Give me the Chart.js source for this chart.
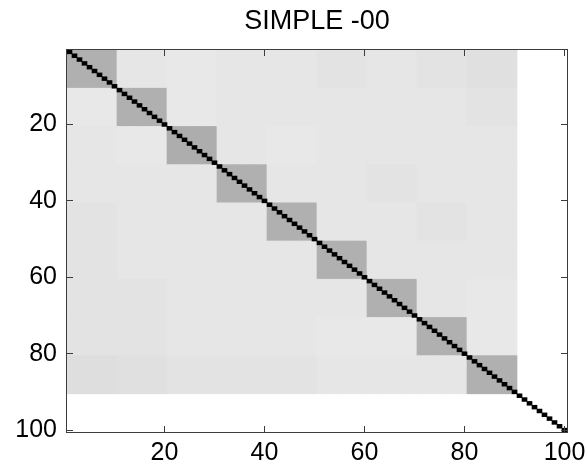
<!DOCTYPE html>
<html>
<head>
<meta charset="utf-8">
<script src="https://cdn.jsdelivr.net/npm/chart.js@4.4.0/dist/chart.umd.min.js"></script>
<style>
  html, body { margin: 0; padding: 0; background: #fff; }
</style>
</head>
<body>
<canvas id="matrixChart" width="585" height="470"></canvas>
<script>
// Titulo y marcas de los ejes
const chartTitle = 'SIMPLE -00';
const xTicks = [20, 40, 60, 80, 100];
const yTicks = [20, 40, 60, 80, 100];

// 100 elementos; los primeros 90 en grupos de 10, los ultimos 10 sin grupo
const nItems = 100;
const groupSize = 10;

// Similitud media por bloque (fila de grupo x columna de grupo)
const blockValues = [
  [0.31, 0.10, 0.09, 0.10, 0.10, 0.11, 0.10, 0.11, 0.12],
  [0.09, 0.31, 0.09, 0.10, 0.10, 0.10, 0.10, 0.10, 0.11],
  [0.10, 0.09, 0.32, 0.10, 0.09, 0.10, 0.10, 0.10, 0.10],
  [0.10, 0.10, 0.10, 0.31, 0.10, 0.10, 0.11, 0.10, 0.10],
  [0.11, 0.10, 0.10, 0.10, 0.31, 0.10, 0.10, 0.11, 0.10],
  [0.11, 0.10, 0.10, 0.10, 0.10, 0.31, 0.10, 0.10, 0.10],
  [0.11, 0.11, 0.10, 0.10, 0.10, 0.10, 0.31, 0.10, 0.09],
  [0.11, 0.11, 0.10, 0.10, 0.10, 0.09, 0.09, 0.31, 0.09],
  [0.13, 0.12, 0.11, 0.11, 0.11, 0.10, 0.10, 0.10, 0.31]
];
// Cada elemento consigo mismo
const diagValue = 1.0;

// Escala de grises invertida (0 = blanco, 1 = negro)
const grayFor = (v) => {
  const g = Math.round(255 * (1 - v));
  return `rgb(${g},${g},${g})`;
};

// Barras flotantes: una por columna y bloque
const blockBars = [];
for (let col = 1; col <= blockValues.length * groupSize; col++) {
  const cb = Math.floor((col - 1) / groupSize);
  for (let rb = 0; rb < blockValues.length; rb++) {
    blockBars.push({
      x: col,
      y: [rb * groupSize + 0.5, (rb + 1) * groupSize + 0.5],
      v: blockValues[rb][cb]
    });
  }
}

const diagBars = [];
for (let i = 1; i <= nItems; i++) {
  diagBars.push({ x: i, y: [i - 0.5, i + 0.5], v: diagValue });
}

// Marco y marcas hacia dentro, como en MATLAB
const frameTicks = {
  id: 'frameTicks',
  afterDatasetsDraw(chart) {
    const { ctx, chartArea: a, scales } = chart;
    const tickLen = 6;
    ctx.save();
    ctx.strokeStyle = '#3c3c3c';
    ctx.lineWidth = 1;
    ctx.strokeRect(a.left - 0.5, a.top - 0.5, a.right - a.left + 1, a.bottom - a.top + 1);
    ctx.beginPath();
    xTicks.forEach(v => {
      const px = Math.floor(scales.x.getPixelForValue(v)) + 0.5;
      ctx.moveTo(px, a.bottom);
      ctx.lineTo(px, a.bottom - tickLen);
      ctx.moveTo(px, a.top);
      ctx.lineTo(px, a.top + tickLen);
    });
    yTicks.forEach(v => {
      const py = Math.floor(scales.y.getPixelForValue(v)) + 0.5;
      ctx.moveTo(a.left, py);
      ctx.lineTo(a.left + tickLen, py);
      ctx.moveTo(a.right, py);
      ctx.lineTo(a.right - tickLen, py);
    });
    ctx.stroke();
    ctx.restore();
  }
};

const fontFamily = "'Liberation Sans', Arial, sans-serif";
const cellStyle = {
  xAxisID: 'x',
  yAxisID: 'y',
  grouped: false,
  backgroundColor: (c) => grayFor(c.raw ? c.raw.v : 0),
  borderWidth: 0,
  barPercentage: 1,
  categoryPercentage: 1
};

const chart = new Chart(document.getElementById('matrixChart'), {
  type: 'bar',
  data: {
    // el primer dataset se dibuja encima
    datasets: [
      { ...cellStyle, data: diagBars },
      { ...cellStyle, data: blockBars }
    ]
  },
  options: {
    responsive: false,
    animation: false,
    layout: { padding: { left: 0, right: 18, top: 0, bottom: 0 } },
    plugins: {
      legend: { display: false },
      tooltip: { enabled: false },
      title: { display: false }
    },
    scales: {
      x: {
        type: 'linear',
        min: 0.5,
        max: nItems + 0.5,
        offset: false,
        grid: { display: false, drawTicks: false },
        border: { display: false },
        afterBuildTicks: (s) => { s.ticks = xTicks.map(v => ({ value: v })); },
        afterFit: (s) => { s.height = 38; s.paddingLeft = 0; s.paddingRight = 0; },
        ticks: {
          color: '#000',
          padding: 6,
          maxRotation: 0,
          autoSkip: false,
          font: { family: fontFamily, size: 25 }
        }
      },
      y: {
        type: 'linear',
        min: 0.5,
        max: nItems + 0.5,
        reverse: true,
        grid: { display: false, drawTicks: false },
        border: { display: false },
        afterBuildTicks: (s) => { s.ticks = yTicks.map(v => ({ value: v })); },
        afterFit: (s) => { s.width = 67; s.paddingTop = 0; s.paddingBottom = 0; },
        ticks: {
          color: '#000',
          padding: 10,
          autoSkip: false,
          font: { family: fontFamily, size: 25 }
        }
      },
      // eje superior solo para centrar el titulo sobre el grafico
      top: {
        type: 'linear',
        position: 'top',
        offset: false,
        grid: { display: false, drawTicks: false },
        border: { display: false },
        ticks: { display: false },
        afterFit: (s) => { s.height = 50; s.paddingLeft = 0; s.paddingRight = 0; },
        title: {
          display: true,
          text: chartTitle,
          color: '#000',
          font: { family: fontFamily, size: 27, weight: 'normal' },
          padding: { top: 5, bottom: 0 }
        }
      }
    }
  },
  plugins: [frameTicks]
});
</script>
</body>
</html>
